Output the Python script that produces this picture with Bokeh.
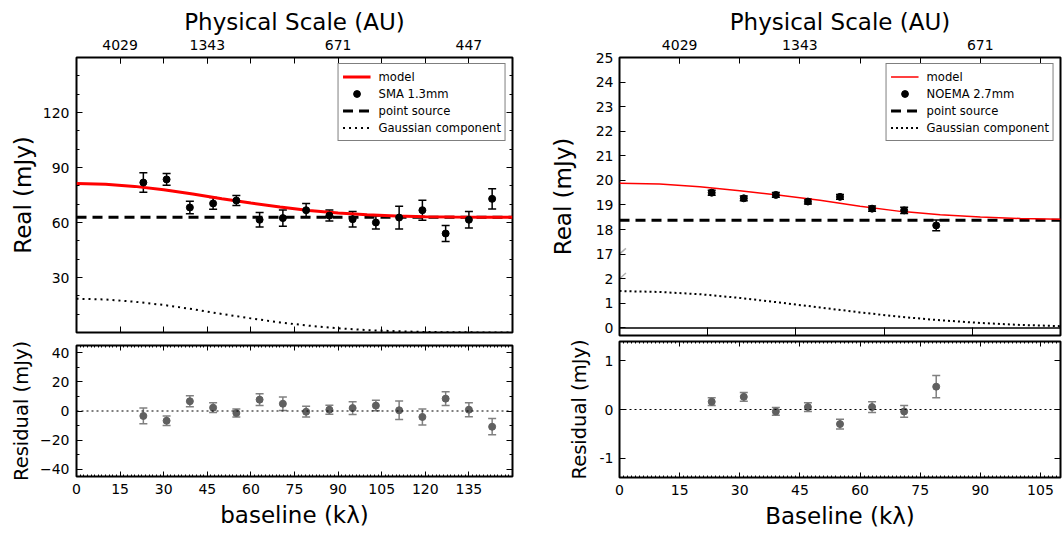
import numpy as np
from bokeh.plotting import figure
from bokeh.models import (ColumnDataSource, Whisker, TeeHead, LinearAxis, FixedTicker,
                          Range1d, Legend, LegendItem, PolyAnnotation, Span)
from bokeh.layouts import row, column
from bokeh.embed import file_html
from bokeh.resources import INLINE

FONT = "DejaVu Sans"
TICK_SIZE = "14px"
TITLE_SIZE = "23px"
RES_SIZE = "19.5px"

# ---------------- data: SMA 1.3 mm (left) ----------------
sma_baseline = [23, 31, 39, 47, 55, 63, 71, 79, 87, 95, 103, 111, 119, 127, 135, 143]
sma_real = [81.8, 83.5, 68.2, 70.4, 72.0, 61.5, 62.4, 66.7, 63.8, 61.8, 60.0, 62.7, 66.7, 54.0, 61.5, 72.9]
sma_real_err = [5.3, 3.2, 3.4, 3.2, 2.7, 4.0, 4.4, 3.6, 3.0, 4.2, 3.5, 6.2, 5.5, 4.4, 4.5, 5.5]
sma_resid = [-3.4, -6.7, 6.7, 2.3, -1.4, 7.8, 5.0, -0.5, 0.9, 2.0, 3.7, 0.5, -4.1, 8.5, 0.9, -10.8]
sma_resid_err = [5.4, 3.3, 3.7, 3.3, 2.8, 4.1, 4.6, 3.7, 3.1, 4.4, 3.6, 6.4, 5.5, 4.8, 4.8, 5.6]
sma_model_baseline = [0, 10, 20, 30, 40, 50, 60, 70, 80, 90, 100, 110, 120, 130, 140, 150]
sma_model = [81.3, 80.9, 79.7, 77.9, 75.6, 73.0, 70.6, 68.4, 66.6, 65.2, 64.2, 63.6, 63.2, 63.0, 62.9, 62.8]
sma_gauss = [18.4, 18.0, 16.8, 15.0, 12.7, 10.1, 7.7, 5.5, 3.7, 2.3, 1.3, 0.7, 0.3, 0.1, 0.05, 0.0]
sma_point_source = 62.9

sma_x_ticks = [0, 15, 30, 45, 60, 75, 90, 105, 120, 135]
sma_real_ticks = [30, 60, 90, 120]
sma_real_minor = [0, 10, 20, 40, 50, 70, 80, 100, 110, 130, 140, 150]
sma_resid_ticks = [-40, -20, 0, 20, 40]
sma_resid_labels = ["\u221240", "\u221220", "0", "20", "40"]
sma_au_ticks = [15, 45, 90, 135]
sma_au_labels = ["4029", "1343", "671", "447"]

# ---------------- data: NOEMA 2.7 mm (right) ----------------
noema_baseline = [23, 31, 39, 47, 55, 63, 71, 79]
noema_real = [19.50, 19.27, 19.41, 19.14, 19.33, 18.85, 18.78, 18.17]
noema_real_err = [0.10, 0.10, 0.10, 0.10, 0.10, 0.11, 0.13, 0.22]
noema_resid = [0.16, 0.26, -0.04, 0.05, -0.30, 0.05, -0.04, 0.47]
noema_resid_err = [0.08, 0.09, 0.08, 0.09, 0.10, 0.11, 0.12, 0.23]
noema_model_baseline = [0, 10, 20, 30, 40, 50, 60, 70, 80, 90, 100, 110]
noema_model = [19.88, 19.85, 19.74, 19.58, 19.40, 19.19, 18.95, 18.74, 18.60, 18.51, 18.45, 18.42]
noema_gauss = [1.50, 1.46, 1.37, 1.22, 1.03, 0.83, 0.63, 0.45, 0.31, 0.20, 0.12, 0.07]
noema_point_source = 18.38

noema_x_ticks = [0, 15, 30, 45, 60, 75, 90, 105]
noema_lower_ticks = [0, 1, 2]
noema_upper_ticks = [17, 18, 19, 20, 21, 22, 23, 24, 25]
noema_resid_ticks = [-1, 0, 1]
noema_resid_labels = ["-1", "0", "1"]
noema_au_ticks = [15, 45, 90]
noema_au_labels = ["4029", "1343", "671"]
noema_bottom_ticks = [22, 44, 66, 88]

# broken-axis offset: the upper block (17..25) sits one unit above the lower block (0..2)
BREAK = noema_upper_ticks[0] - (noema_lower_ticks[-1] + 1)


def base_fig(w, h, xr, yr, bl, br, bt, bb):
    p = figure(width=w, height=h, x_range=Range1d(*xr), y_range=Range1d(*yr),
               x_axis_location=None, y_axis_location=None, output_backend="svg",
               toolbar_location=None, min_border_left=bl, min_border_right=br,
               min_border_top=bt, min_border_bottom=bb)
    p.grid.visible = False
    p.outline_line_color = "black"
    p.outline_line_width = 2
    p.background_fill_color = "white"
    p.border_fill_color = "white"
    return p


def add_axis(p, side, ticks, labels=None, minor=None, tick_in=6, minor_in=3,
             label=None, label_size=TITLE_SIZE, label_standoff=4, tick_standoff=6):
    ax = LinearAxis(ticker=FixedTicker(ticks=ticks, minor_ticks=minor or []))
    ax.axis_line_color = None
    ax.major_tick_in = tick_in
    ax.major_tick_out = 0
    ax.minor_tick_in = minor_in
    ax.minor_tick_out = 0
    ax.major_tick_line_color = "black"
    ax.minor_tick_line_color = "black"
    ax.major_tick_line_width = 1
    ax.major_label_text_font = FONT
    if labels is None:
        ax.major_label_text_font_size = "0px"
        ax.major_label_text_color = None
        ax.major_label_standoff = 0
    else:
        ax.major_label_overrides = dict(labels)
        ax.major_label_text_color = "black"
        ax.major_label_text_font_size = TICK_SIZE
        ax.major_label_standoff = tick_standoff
    if label is not None:
        ax.axis_label = label
        ax.axis_label_text_font = FONT
        ax.axis_label_text_font_size = label_size
        ax.axis_label_text_font_style = "normal"
        ax.axis_label_text_color = "black"
        ax.axis_label_standoff = label_standoff
    p.add_layout(ax, side)
    return ax


def errorbars(p, x, y, err, color, width, cap, range_name=None):
    src = ColumnDataSource(dict(x=x, lo=[a - b for a, b in zip(y, err)],
                                hi=[a + b for a, b in zip(y, err)]))
    w = Whisker(source=src, base="x", lower="lo", upper="hi", dimension="height",
                line_color=color, line_width=width,
                lower_head=TeeHead(size=cap, line_color=color, line_width=width),
                upper_head=TeeHead(size=cap, line_color=color, line_width=width))
    if range_name is not None:
        w.y_range_name = range_name
    p.add_layout(w)


def make_legend(items):
    return Legend(items=items, location="top_right", border_line_color="black",
                  border_line_width=1.5, label_text_font=FONT, label_text_font_size="11.6px",
                  label_text_color="black", glyph_width=28, glyph_height=17, label_height=17,
                  spacing=0, padding=4, margin=6, label_standoff=8,
                  background_fill_color="white", background_fill_alpha=1)


def every(ticks, start, stop):
    return [t for t in ticks if start < t < stop]


# ================= LEFT: SMA =================
lt = base_fig(540, 338, (0, 150), (0, 150), 76, 28, 57, 6)
add_axis(lt, "above", every(sma_x_ticks, 0, 150))           # plain tick marks
add_axis(lt, "above", sma_au_ticks, labels=dict(zip(sma_au_ticks, sma_au_labels)),
         label="Physical Scale (AU)", label_standoff=2, tick_standoff=8)
add_axis(lt, "below", every(sma_x_ticks, 0, 150))
add_axis(lt, "left", sma_real_ticks, labels={t: str(t) for t in sma_real_ticks},
         minor=sma_real_minor, label="Real (mJy)", label_standoff=4, tick_standoff=7)
add_axis(lt, "right", sma_real_ticks, minor=sma_real_minor)

r_model = lt.line(sma_model_baseline, sma_model, line_color="red", line_width=3)
r_ps = lt.line(sma_model_baseline, [sma_point_source] * len(sma_model_baseline),
               line_color="black", line_width=3, line_dash="10 6")
r_g = lt.line(sma_model_baseline, sma_gauss, line_color="black", line_width=2, line_dash="2 4")
lt.renderers = [r_g, r_ps, r_model]
errorbars(lt, sma_baseline, sma_real, sma_real_err, "black", 1.5, 8)
r_pts = lt.scatter(sma_baseline, sma_real, size=7, color="black")
lt.add_layout(make_legend([
    LegendItem(label="model", renderers=[r_model]),
    LegendItem(label="SMA 1.3mm", renderers=[r_pts]),
    LegendItem(label="point source", renderers=[r_ps]),
    LegendItem(label="Gaussian component", renderers=[r_g]),
]))

lr = base_fig(540, 201, (0, 150), (-45, 45), 76, 28, 7, 63)
add_axis(lr, "above", every(sma_x_ticks, 0, 150), minor=[i * 1.25 for i in range(121)],
         tick_in=5, minor_in=2)
add_axis(lr, "below", sma_x_ticks, labels={t: str(t) for t in sma_x_ticks},
         minor=[i * 1.25 for i in range(121)], tick_in=5, minor_in=2,
         label="baseline (k\u03bb)", label_standoff=5, tick_standoff=7)
add_axis(lr, "left", sma_resid_ticks, labels=dict(zip(sma_resid_ticks, sma_resid_labels)),
         minor=[-30, -10, 10, 30], label="Residual (mJy)", label_size=RES_SIZE,
         label_standoff=4, tick_standoff=7)
add_axis(lr, "right", sma_resid_ticks, minor=[-30, -10, 10, 30])
lr.add_layout(Span(location=0, dimension="width", line_color="black", line_width=1.2,
                   line_dash="2 3"))
errorbars(lr, sma_baseline, sma_resid, sma_resid_err, "#808080", 1.5, 8)
lr.scatter(sma_baseline, sma_resid, size=7, color="#606060")

# ================= RIGHT: NOEMA =================
rt = base_fig(522, 338, (0, 110), (-0.31, 11), 79, 2, 57, 3)
rt.extra_y_ranges = {"upper": Range1d(-0.31 + BREAK, 11 + BREAK)}
add_axis(rt, "above", every(noema_x_ticks, 0, 110))          # plain tick marks
add_axis(rt, "above", noema_au_ticks, labels=dict(zip(noema_au_ticks, noema_au_labels)),
         label="Physical Scale (AU)", label_standoff=2, tick_standoff=8)
add_axis(rt, "below", noema_bottom_ticks, tick_in=8)
y_ticks_r = noema_lower_ticks + [t - BREAK for t in noema_upper_ticks]
y_labels_r = [str(t) for t in noema_lower_ticks + noema_upper_ticks]
add_axis(rt, "left", y_ticks_r, labels=dict(zip(y_ticks_r, y_labels_r)),
         label="Real (mJy)", label_standoff=17, tick_standoff=6)

rt.line(noema_model_baseline, [0] * len(noema_model_baseline), line_color="black", line_width=1.5)
r_g2 = rt.line(noema_model_baseline, noema_gauss, line_color="black", line_width=2, line_dash="2 3")
r_ps2 = rt.line(noema_model_baseline, [noema_point_source] * len(noema_model_baseline),
                line_color="black", line_width=3, line_dash="10 6", y_range_name="upper")
r_model2 = rt.line(noema_model_baseline, noema_model, line_color="red", line_width=1.5,
                   y_range_name="upper")
errorbars(rt, noema_baseline, noema_real, noema_real_err, "black", 1.5, 8, range_name="upper")
r_pts2 = rt.scatter(noema_baseline, noema_real, size=7, color="black", y_range_name="upper")
rt.add_layout(make_legend([
    LegendItem(label="model", renderers=[r_model2]),
    LegendItem(label="NOEMA 2.7mm", renderers=[r_pts2]),
    LegendItem(label="point source", renderers=[r_ps2]),
    LegendItem(label="Gaussian component", renderers=[r_g2]),
]))
# break marks on the left spine, at the last lower tick and first upper tick
for yb in (noema_lower_ticks[-1], noema_upper_ticks[0] - BREAK):
    rt.add_layout(PolyAnnotation(xs=[-1.6, 1.6], ys=[yb - 0.235, yb + 0.235],
                                 xs_units="data", ys_units="data", fill_alpha=0,
                                 line_color="black", line_width=1.5))

rr = base_fig(522, 201, (0, 110), (-1.4, 1.4), 79, 2, 3, 62)
add_axis(rr, "above", every(noema_x_ticks, 0, 110), minor=[i * 1.0 for i in range(111)],
         tick_in=5, minor_in=2)
add_axis(rr, "below", noema_x_ticks, labels={t: str(t) for t in noema_x_ticks},
         minor=[i * 1.0 for i in range(111)], tick_in=5, minor_in=2,
         label="Baseline (k\u03bb)", label_standoff=5, tick_standoff=7)
add_axis(rr, "left", noema_resid_ticks, labels=dict(zip(noema_resid_ticks, noema_resid_labels)),
         label="Residual (mJy)", label_size=RES_SIZE, label_standoff=6, tick_standoff=6)
add_axis(rr, "right", noema_resid_ticks)
rr.add_layout(Span(location=0, dimension="width", line_color="black", line_width=1.2,
                   line_dash="2 3"))
errorbars(rr, noema_baseline, noema_resid, noema_resid_err, "#808080", 1.5, 8)
rr.scatter(noema_baseline, noema_resid, size=7, color="#606060")

layout = row(column(lt, lr), column(rt, rr))
open("out.html", "w").write(file_html(layout, INLINE))
